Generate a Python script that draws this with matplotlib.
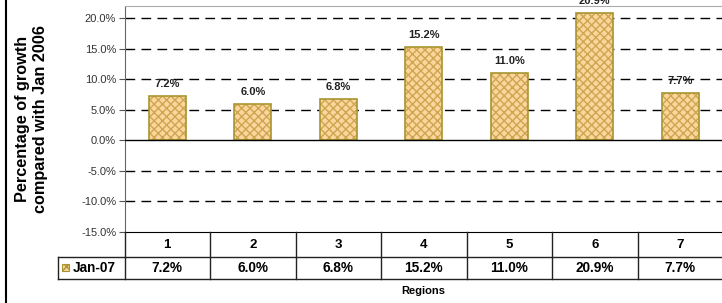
import numpy as np
import matplotlib
matplotlib.use("Agg")
import matplotlib.pyplot as plt
from matplotlib.lines import Line2D
from matplotlib.patches import Rectangle

plt.rcParams['font.family'] = ['Liberation Sans', 'DejaVu Sans']

regions = ['1', '2', '3', '4', '5', '6', '7']
growth = [7.2, 6.0, 6.8, 15.2, 11.0, 20.9, 7.7]
series_name = 'Jan-07'
yticks = [-15, -10, -5, 0, 5, 10, 15, 20]

W, H = 722, 303
fig = plt.figure(figsize=(W / 100, H / 100), dpi=100)

# pixel positions of plot area
x0, x1 = 124.5, 723.0
ytop, ybot = 6.0, 231.5
ax = fig.add_axes([x0 / W, (H - ybot) / H, (x1 - x0) / W, (ybot - ytop) / H])

x = np.arange(1, len(regions) + 1)
face = '#FFD49C'
hatchc = '#C8A850'
edge = '#A89530'

ax.set_xlim(0.5, len(regions) + 0.5)
ax.set_ylim(-15, 22)

for t in yticks:
    if t in (0, -15):
        continue
    ax.axhline(t, color='black', lw=1.0, ls=(0, (7, 4.5)), zorder=1)
ax.axhline(0, color='black', lw=1.0, zorder=3)

ax.bar(x, growth, width=0.43, color=face, edgecolor=hatchc, hatch='xxxx',
       linewidth=0, zorder=2)
ax.bar(x, growth, width=0.43, fill=False, edgecolor=edge, linewidth=1.2, zorder=2.5)

for xi, v in zip(x, growth):
    ax.annotate(f'{v:.1f}%', (xi, v), xytext=(0, 5), textcoords='offset points',
                ha='center', va='bottom', fontsize=8, fontweight='bold',
                color='#222222', annotation_clip=False, clip_on=False)

ax.set_yticks(yticks)
ax.set_yticklabels([f'{t:.1f}%' for t in yticks], fontsize=8, color='#333333')
ax.tick_params(axis='y', length=4, width=0.8, color='#555555', pad=2)
ax.set_xticks([])
for s in ['right']:
    ax.spines[s].set_visible(False)
ax.spines['top'].set_color('#AAAAAA')
ax.spines['left'].set_color('#666666')
ax.spines['bottom'].set_color('black')

ax.set_ylabel('Percentage of growth\ncompared with Jan 2006', fontsize=11.7,
              fontweight='bold', linespacing=1.25, va='center')
ax.yaxis.set_label_coords(-0.155, 0.50)

# data table under the plot
r1, r2 = 256.7, 279.3
tax = fig.add_axes([0, 0, 1, 1], facecolor='none')
tax.set_xlim(0, W)
tax.set_ylim(H, 0)
tax.axis('off')
colw = (x1 - x0) / len(regions)
lc = '#222222'
tax.add_line(Line2D([x0, W], [r1, r1], color=lc, lw=1.0))
tax.add_line(Line2D([58.3, W], [r2, r2], color=lc, lw=1.0))
tax.add_line(Line2D([58.3, x0], [r1, r1], color=lc, lw=1.0))
tax.add_line(Line2D([58.3, 58.3], [r1, r2], color=lc, lw=1.0))
for i in range(len(regions) + 1):
    xb = x0 + i * colw
    tax.add_line(Line2D([xb, xb], [ybot, r2], color=lc, lw=1.0))
for i, (lab, v) in enumerate(zip(regions, growth)):
    xc = x0 + (i + 0.5) * colw
    tax.text(xc, (ybot + r1) / 2 + 0.5, lab, ha='center', va='center',
             fontsize=9.5, fontweight='bold')
    tax.text(xc, (r1 + r2) / 2 + 0.5, f'{v:.1f}%', ha='center', va='center',
             fontsize=9.8, fontweight='bold')
tax.add_patch(Rectangle((62, 264), 7, 7, facecolor=face, edgecolor=edge,
                        hatch='xxx', lw=0.8))
tax.text(73, (r1 + r2) / 2 + 0.5, series_name, ha='left', va='center',
         fontsize=9.8, fontweight='bold')
tax.text((x0 + x1) / 2, 291.5, 'Regions', ha='center', va='center',
         fontsize=8, fontweight='bold')
# outer frame line on the left
tax.add_line(Line2D([6, 6], [0, H], color='black', lw=1.5))

fig.savefig('out.png', dpi=100)
